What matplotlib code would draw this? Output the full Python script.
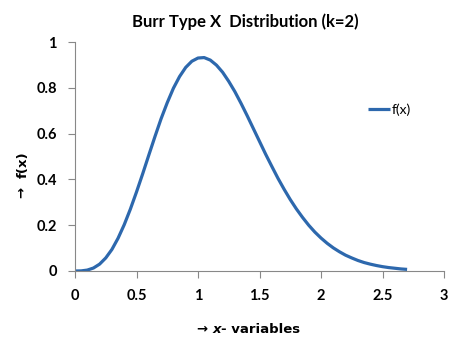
import matplotlib
matplotlib.use("Agg")
import matplotlib.pyplot as plt

# f(x) values of the k=2 curve, sampled every 0.05
x_vals = [0.0, 0.05, 0.1, 0.15, 0.2, 0.25, 0.3, 0.35, 0.4, 0.45, 0.5, 0.55,
          0.6, 0.65, 0.7, 0.75, 0.8, 0.85, 0.9, 0.95, 1.0, 1.05, 1.1, 1.15,
          1.2, 1.25, 1.3, 1.35, 1.4, 1.45, 1.5, 1.55, 1.6, 1.65, 1.7, 1.75,
          1.8, 1.85, 1.9, 1.95, 2.0, 2.05, 2.1, 2.15, 2.2, 2.25, 2.3, 2.35,
          2.4, 2.45, 2.5, 2.55, 2.6, 2.65, 2.7]
fx_vals = [0.0, 0.0005, 0.004, 0.013, 0.030, 0.057, 0.094, 0.143, 0.202,
           0.270, 0.345, 0.424, 0.506, 0.587, 0.665, 0.735, 0.798, 0.849,
           0.889, 0.916, 0.930, 0.932, 0.921, 0.899, 0.868, 0.828, 0.783,
           0.732, 0.678, 0.622, 0.566, 0.510, 0.457, 0.405, 0.357, 0.312,
           0.271, 0.234, 0.200, 0.170, 0.144, 0.121, 0.101, 0.084, 0.069,
           0.057, 0.046, 0.037, 0.030, 0.024, 0.019, 0.015, 0.012, 0.009,
           0.007]
x_ticks = [0, 0.5, 1, 1.5, 2, 2.5, 3]
y_ticks = [0, 0.2, 0.4, 0.6, 0.8, 1]
x_ticklabels = ["0", "0.5", "1", "1.5", "2", "2.5", "3"]
y_ticklabels = ["0", "0.2", "0.4", "0.6", "0.8", "1"]

plt.rcParams['font.family'] = ['Lato']

fig = plt.figure(figsize=(4.74, 3.43), dpi=100)
ax = fig.add_axes([75 / 474, 72 / 343, 369 / 474, 229 / 343])

ax.plot(x_vals, fx_vals, color="#2d68ad", lw=2.3, label="f(x)",
        solid_capstyle="butt", solid_joinstyle="round")

ax.set_xlim(0, 3)
ax.set_ylim(0, 1)
ax.set_xticks(x_ticks)
ax.set_xticklabels(x_ticklabels)
ax.set_yticks(y_ticks)
ax.set_yticklabels(y_ticklabels)
for s in ["top", "right"]:
    ax.spines[s].set_visible(False)
for s in ["left", "bottom"]:
    ax.spines[s].set_color("#888888")
    ax.spines[s].set_linewidth(0.8)
ax.tick_params(direction="out", length=5, width=0.8, color="#888888",
               labelsize=10.5, pad=8)
for lab in ax.get_xticklabels() + ax.get_yticklabels():
    lab.set_fontweight("bold")

fig.text(245 / 474, 1 - 22 / 343, "Burr Type X  Distribution (k=2)",
         ha="center", va="center", fontsize=12, fontweight="bold")

# x axis title: arrow, italic x, then the rest
lab_font = dict(fontsize=9.5, fontweight="bold", family="DejaVu Sans")
t1 = fig.text(197 / 474, 1 - 333 / 343, "→ ", ha="left", va="baseline",
              **lab_font)
t2 = ax.annotate("x", xy=(1, 0), xycoords=t1, ha="left", va="bottom",
                 style="italic", **lab_font)
ax.annotate("- variables", xy=(1, 0), xycoords=t2, ha="left", va="bottom",
            **lab_font)

# y axis title, rotated
s1 = fig.text(23 / 474, 1 - 198 / 343, "→  ", ha="center", va="bottom",
              rotation=90, **lab_font)
ax.annotate("f(x)", xy=(0.5, 1), xycoords=s1, ha="center", va="bottom",
            rotation=90, **lab_font)

leg = ax.legend(loc="center left", bbox_to_anchor=(0.76, 0.705),
                frameon=False, handlelength=1.6, handletextpad=0.1,
                fontsize=10)

fig.savefig("out.png", dpi=100, facecolor="white")
